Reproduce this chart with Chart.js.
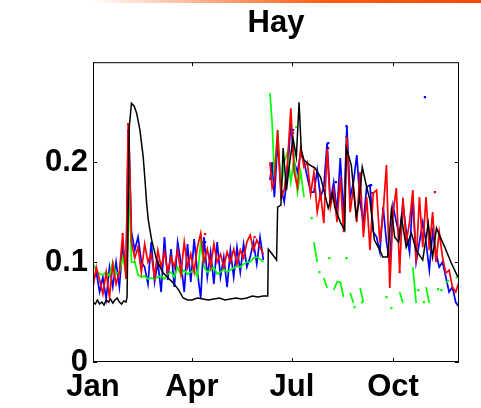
<!DOCTYPE html>
<html>
<head>
<meta charset="utf-8">
<title>Hay</title>
<script src="https://cdn.jsdelivr.net/npm/chart.js@4.4.1/dist/chart.umd.min.js"></script>
<style>
    body { margin: 0; background: #fff; }
    #wrap { position: relative; width: 481px; height: 408px; }
    #topbar {
        position: absolute; left: 90px; top: 0; width: 391px; height: 3px;
        background: linear-gradient(to right, rgba(255, 90, 0, 0), #ff5a10 60%, #ff4a00);
    }
</style>
</head>
<body>
<div id="wrap">
    <canvas id="myChart" width="481" height="408"></canvas>
    <div id="topbar"></div>
</div>
<script>
// x is day of year (0 = 1 Jan)
const tickDays = [0, 90, 181, 273];
const tickLabels = ['Jan', 'Apr', 'Jul', 'Oct'];
const yTicks = [0, 0.1, 0.2];

const blackDays = [0, 2, 4, 6, 8, 10, 12, 14, 16, 18, 20, 22, 24, 26, 28, 30, 31, 32, 33, 35,
    37.5, 39.7, 42.7, 45.7, 47.3, 48.8, 50.3, 53.4, 57.9, 63.9, 73, 78, 82, 86, 90, 95, 100, 105, 110, 115,
    120, 125, 130, 135, 140, 145, 150, 155, 159, 159.5, 163, 167, 168, 171, 173, 176, 179, 182, 185, 187.5,
    189.5, 192, 196, 202, 207, 211, 214, 218, 220, 225, 229, 230.5, 235, 239.5, 242, 245, 249, 252, 256, 261,
    263.5, 268, 271.5, 274.5, 278, 280.6, 285, 289.7, 294, 300, 305, 309, 312.5, 316, 320, 326, 332];
const blackVals = [0.06, 0.058, 0.062, 0.058, 0.06, 0.057, 0.062, 0.06, 0.063, 0.059, 0.062, 0.064, 0.06, 0.058, 0.061, 0.06, 0.065, 0.15, 0.235, 0.259,
    0.256, 0.249, 0.232, 0.205, 0.182, 0.159, 0.142, 0.122, 0.102, 0.089, 0.079, 0.072, 0.064, 0.062, 0.062, 0.064, 0.063, 0.062, 0.063, 0.064,
    0.062, 0.063, 0.064, 0.063, 0.064, 0.066, 0.065, 0.066, 0.066, 0.113, 0.108, 0.102, 0.155, 0.157, 0.214, 0.172, 0.2, 0.224, 0.205, 0.26,
    0.212, 0.202, 0.198, 0.194, 0.185, 0.168, 0.154, 0.169, 0.155, 0.14, 0.132, 0.214, 0.197, 0.145, 0.16, 0.195, 0.175, 0.162, 0.122, 0.112,
    0.105, 0.105, 0.152, 0.125, 0.12, 0.145, 0.115, 0.129, 0.112, 0.102, 0.139, 0.105, 0.134, 0.125, 0.115, 0.099, 0.085];

const cDays = [0, 3, 6, 9, 12, 15, 18, 21, 24, 27,
    30, 32, 33, 35, 38, 41, 44, 47, 50, 53,
    56, 59, 62, 65, 68, 71, 74, 77, 80, 83,
    86, 89, 92, 95, 98, 101, 104, 107, 110, 113,
    116, 119, 122, 125, 128, 131, 134, 137, 140, 143,
    146, 149, 152, 155, 158, 161, 163, 165, 168, 171,
    174, 177, 180, 183, 186, 189, 192, 195, 198, 201,
    204, 207, 210, 213, 216, 219, 222, 225, 228, 231,
    234, 237, 240, 243, 246, 249, 252, 255, 258, 261,
    264, 267, 270, 273, 276, 279, 282, 285, 288, 291,
    294, 297, 300, 303, 306, 309, 312, 315, 318, 321,
    324, 327, 330, 333];

const redVals = [0.075, 0.095, 0.082, 0.068, 0.09, 0.065, 0.098, 0.078, 0.09, 0.128,
    0.083, 0.238, 0.214, 0.12, 0.104, 0.115, 0.09, 0.118, 0.1, 0.108,
    0.085, 0.112, 0.095, 0.11, 0.09, 0.105, 0.095, 0.112, 0.088, 0.12,
    0.095, 0.108, 0.09, 0.115, 0.129, 0.1, 0.113, 0.095, 0.118, 0.1,
    0.108, 0.095, 0.11, 0.1, 0.113, 0.098, 0.112, 0.104, 0.12, 0.127,
    0.112, 0.122, 0.115, 0.108, null, 0.2, 0.174, 0.18, 0.232, 0.165,
    0.172, 0.2, 0.254, 0.19, 0.175, 0.215, 0.195, 0.2, 0.168, 0.19,
    0.15, 0.169, 0.139, 0.213, 0.155, 0.172, 0.14, 0.185, 0.13, 0.225,
    0.15, 0.175, 0.14, 0.19, 0.125, 0.165, 0.112, 0.169, 0.172, 0.12,
    0.15, 0.197, 0.074, 0.15, 0.174, 0.09, 0.164, 0.12, 0.14, 0.172,
    0.099, 0.165, 0.115, 0.165, 0.112, 0.15, 0.1, 0.13, 0.105, 0.089,
    0.092, 0.075, 0.07, 0.08];

const blueVals = [0.08, 0.09, 0.07, 0.085, 0.063, 0.095, 0.075, 0.1, 0.075, 0.116,
    0.089, 0.231, 0.21, 0.13, 0.112, 0.125, 0.1, 0.095, 0.078, 0.12,
    0.08, 0.1, 0.07, 0.125, 0.082, 0.113, 0.075, 0.12, 0.1, 0.07,
    0.118, 0.08, 0.123, 0.09, 0.064, 0.125, 0.085, 0.11, 0.078, 0.12,
    0.085, 0.105, 0.075, 0.112, 0.085, 0.115, 0.09, 0.118, 0.095, 0.105,
    0.12, 0.098, 0.125, 0.102, null, 0.182, 0.2, 0.165, 0.22, 0.175,
    0.16, 0.19, 0.24, 0.2, 0.19, 0.21, 0.2, 0.185, 0.17, 0.17,
    0.192, 0.165, 0.175, 0.219, 0.16, 0.18, 0.15, 0.204, 0.145, 0.236,
    0.165, 0.18, 0.207, 0.16, 0.14, 0.175, 0.177, 0.13, 0.125, 0.11,
    0.155, 0.12, 0.1, 0.156, 0.14, 0.125, 0.159, 0.13, 0.11, 0.165,
    0.1, 0.12, 0.14, 0.12, 0.092, 0.13, 0.11, 0.095, 0.1, 0.085,
    0.07, 0.075, 0.06, 0.055];

const greenVals = [0.098, 0.092, 0.088, 0.087, 0.09, 0.086, 0.1, 0.088, 0.09, 0.105,
    0.089, 0.12, 0.19, 0.1, 0.1, 0.087, 0.085, 0.086, 0.083, 0.084,
    0.083, 0.085, 0.086, 0.083, 0.088, 0.09, 0.085, 0.095, 0.087, 0.092,
    0.088, 0.09, 0.092, 0.085, 0.12, 0.095, 0.09, 0.092, 0.095, 0.088,
    0.09, 0.093, 0.09, 0.092, 0.094, 0.096, 0.095, 0.098, 0.1, 0.1,
    0.104, 0.105, 0.103, 0.1, null, 0.269, 0.239, 0.185, 0.232, 0.172,
    0.2, 0.21, 0.18, 0.205, 0.17, 0.19, 0.165, null, null, 0.12,
    0.1, null, 0.084, 0.074, null, 0.072, 0.08, 0.08, 0.065, null,
    0.069, 0.059, null, 0.074, 0.06, null, null, null, null, null,
    null, null, null, null, null, 0.07, 0.059, null, null, 0.095,
    0.059, null, null, 0.075, 0.059, null, null, null, null, 0.079,
    0.082, null, 0.084, 0.086];

// single readings standing apart from the lines
const redDotDays = [27, 32, 102, 147, 182, 214, 230.6, 254, 279, 311];
const redDotVals = [0.128, 0.238, 0.128, 0.125, 0.229, 0.214, 0.225, 0.169, 0.09, 0.17];
const blueDotDays = [27, 32, 102, 182, 214, 221, 230.6, 253, 302];
const blueDotVals = [0.116, 0.231, 0.12, 0.232, 0.219, 0.18, 0.236, 0.177, 0.265];
const greenDotDays = [30, 38, 100, 185, 199, 206, 215, 230.6, 238, 245, 267, 271.5, 296, 301, 314, 317];
const greenDotVals = [0.089, 0.1, 0.12, 0.235, 0.144, 0.09, 0.104, 0.104, 0.055, 0.06, 0.065, 0.054, 0.072, 0.06, 0.073, 0.072];

const font = { family: '"Liberation Sans", Arial, sans-serif', size: 31, weight: 'bold' };

function toPoints(xs, ys) {
    return xs.map((x, i) => ({ x: x, y: ys[i] }));
}

function lineSet(label, xs, ys, color, width) {
    return {
        label: label,
        data: toPoints(xs, ys),
        borderColor: color,
        borderWidth: width,
        pointRadius: 0,
        spanGaps: false,
        tension: 0
    };
}

function dotSet(label, xs, ys, color) {
    return {
        label: label,
        data: toPoints(xs, ys),
        showLine: false,
        pointStyle: 'rect',
        pointRadius: 1.6,
        pointBorderWidth: 0,
        backgroundColor: color,
        borderColor: color
    };
}

// box round the plot with inward tick marks
const boxPlugin = {
    id: 'box',
    afterDatasetsDraw(chart) {
        const ctx = chart.ctx;
        const a = chart.chartArea;
        const xs = chart.scales.x;
        const ys = chart.scales.y;
        ctx.save();
        ctx.strokeStyle = '#000';
        ctx.lineWidth = 1;
        ctx.strokeRect(a.left + 0.5, a.top + 0.5, a.right - a.left - 1, a.bottom - a.top - 1);
        ctx.beginPath();
        tickDays.forEach(d => {
            const px = Math.round(xs.getPixelForValue(d)) + 0.5;
            ctx.moveTo(px, a.bottom); ctx.lineTo(px, a.bottom - 4);
            ctx.moveTo(px, a.top); ctx.lineTo(px, a.top + 4);
        });
        yTicks.forEach(v => {
            const py = Math.round(ys.getPixelForValue(v)) + 0.5;
            ctx.moveTo(a.left, py); ctx.lineTo(a.left + 4, py);
            ctx.moveTo(a.right, py); ctx.lineTo(a.right - 4, py);
        });
        ctx.stroke();
        ctx.restore();
    }
};

const ctx = document.getElementById('myChart').getContext('2d');
window.myChart = new Chart(ctx, {
    type: 'line',
    data: {
        datasets: [
            lineSet('black', blackDays, blackVals, '#000000', 1.5),
            lineSet('red', cDays, redVals, '#ff0000', 1.7),
            lineSet('green', cDays, greenVals, '#00ff00', 1.7),
            lineSet('blue', cDays, blueVals, '#0000ff', 1.7),
            dotSet('red dots', redDotDays, redDotVals, '#ff0000'),
            dotSet('green dots', greenDotDays, greenDotVals, '#00ff00'),
            dotSet('blue dots', blueDotDays, blueDotVals, '#0000ff')
        ]
    },
    options: {
        responsive: false,
        animation: false,
        layout: { padding: { left: 0, right: 22, top: 0, bottom: 0 } },
        plugins: {
            legend: { display: false },
            tooltip: { enabled: false },
            title: {
                display: true,
                text: 'Hay',
                fullSize: false,
                color: '#000',
                font: font,
                padding: { top: 5, bottom: 20 }
            }
        },
        scales: {
            x: {
                type: 'linear',
                min: 0,
                max: 333,
                afterBuildTicks: s => { s.ticks = tickDays.map(v => ({ value: v })); },
                afterFit: s => { s.height = 46; },
                grid: { display: false, drawTicks: false },
                border: { display: false },
                ticks: {
                    autoSkip: false,
                    maxRotation: 0,
                    padding: 7,
                    color: '#000',
                    font: font,
                    callback: v => tickLabels[tickDays.indexOf(v)]
                }
            },
            y: {
                min: 0,
                max: 0.3,
                afterBuildTicks: s => { s.ticks = yTicks.map(v => ({ value: v })); },
                afterFit: s => { s.width = 93; },
                grid: { display: false, drawTicks: false },
                border: { display: false },
                ticks: {
                    padding: 5,
                    color: '#000',
                    font: font,
                    callback: v => String(Math.round(v * 10) / 10)
                }
            }
        }
    },
    plugins: [boxPlugin]
});
</script>
</body>
</html>
